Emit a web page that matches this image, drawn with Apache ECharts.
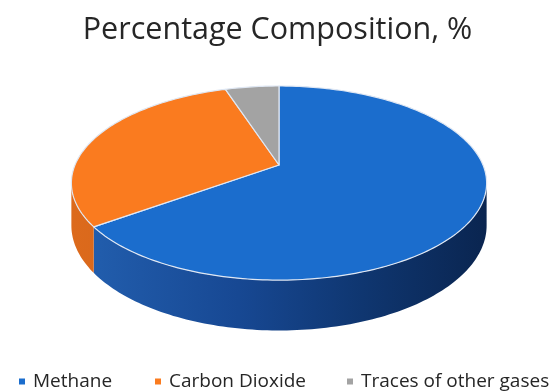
<!DOCTYPE html>
<html>
<head>
<meta charset="utf-8">
<script src="https://cdn.jsdelivr.net/npm/echarts@6/dist/echarts.min.js"></script>
<style>
  html, body { margin: 0; padding: 0; background: #fff; }
  #chart { width: 555px; height: 392px; }
</style>
</head>
<body>
<div id="chart"></div>
<script>
// data
var names = ['Methane', 'Carbon Dioxide', 'Traces of other gases'];
var values = [65, 30, 5];
var topColors = ['#1b6dcd', '#fa7b1f', '#a3a3a3'];
var sideColors = [
  ['#2360b0', '#174893', '#0f3670', '#0a2550'],
  ['#dc6a1c', '#d0611a', '#c65a16', '#b85212'],
  ['#8a8a8a', '#808080', '#777777', '#6c6c6c']
];

var total = values.reduce(function (a, b) { return a + b }, 0);

// projection of the tilted disk (rough perspective like the office 3D pie)
var cx = 279, cy = 165, A = 204, B = 93.7, k = 0.186, depth = 41;

function pt(theta, down) {
  var X = Math.sin(theta), Z = -Math.cos(theta);
  var s = 1 / (1 - k * Z);
  return [cx + A * X * s, cy + B * Z * s + (down ? depth * s : 0)];
}

function arc(a, b, down) {
  var pts = [];
  var n = Math.max(2, Math.ceil((b - a) / 0.02));
  for (var i = 0; i <= n; i++) {
    pts.push(pt(a + (b - a) * i / n, down));
  }
  return pts;
}

var visA = Math.acos(-k), visB = 2 * Math.PI - visA;

function makeSeries(idx) {
  return {
    name: names[idx],
    type: 'custom',
    coordinateSystem: 'none',
    itemStyle: { color: topColors[idx] },
    data: [values[idx]],
    renderItem: function (params, api) {
      var before = 0;
      for (var i = 0; i < idx; i++) before += values[i];
      var t1 = before / total * Math.PI * 2;
      var t2 = (before + api.value(0)) / total * Math.PI * 2;
      var children = [];

      var s1 = Math.max(t1, visA), s2 = Math.min(t2, visB);
      if (s2 > s1) {
        var topEdge = arc(s1, s2, false);
        var botEdge = arc(s1, s2, true).reverse();
        var sc = sideColors[idx];
        children.push({
          type: 'polygon',
          z2: 1,
          shape: { points: topEdge.concat(botEdge) },
          style: {
            fill: new echarts.graphic.LinearGradient(72, 0, 487, 0, [
              { offset: 0, color: sc[0] },
              { offset: 0.4, color: sc[1] },
              { offset: 0.7, color: sc[2] },
              { offset: 1, color: sc[3] }
            ], true),
            stroke: null
          }
        });
      }

      children.push({
        type: 'polygon',
        z2: 10,
        shape: { points: [[cx, cy]].concat(arc(t1, t2, false)) },
        style: {
          fill: topColors[idx],
          stroke: '#dfe7f3',
          lineWidth: 1.2,
          lineJoin: 'round'
        }
      });
      return { type: 'group', children: children };
    }
  };
}

var legendLeft = [14, 150, 342];
var legends = names.map(function (n, i) {
  return {
    data: [n],
    left: legendLeft[i],
    top: 367,
    icon: 'rect',
    itemWidth: 6,
    itemHeight: 6,
    itemGap: 0,
    selectedMode: false,
    textStyle: {
      fontFamily: 'Open Sans',
      fontSize: 19,
      color: '#262626',
      padding: [0, 0, 0, 3]
    }
  };
});

var chart = echarts.init(document.getElementById('chart'));
chart.setOption({
  animation: false,
  backgroundColor: '#fff',
  title: {
    text: 'Percentage Composition, %',
    left: 'center',
    top: 10,
    textStyle: {
      fontFamily: 'Open Sans',
      fontSize: 30.5,
      fontWeight: 'normal',
      color: '#262626'
    }
  },
  legend: legends,
  series: [makeSeries(0), makeSeries(1), makeSeries(2)]
});
</script>
</body>
</html>
